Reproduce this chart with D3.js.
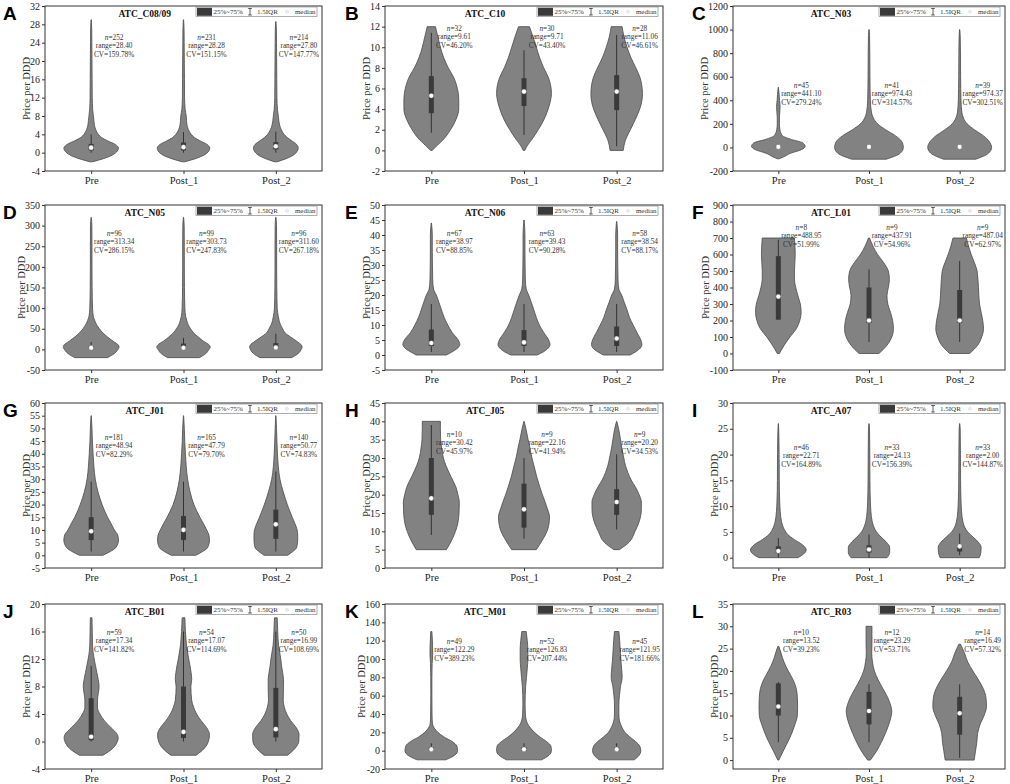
<!DOCTYPE html>
<html><head><meta charset="utf-8">
<script src="https://cdn.jsdelivr.net/npm/d3@7"></script>
<style>body{margin:0;background:#fff} svg{display:block} svg text{font-family:'Liberation Serif','Times New Roman',serif}</style>
</head><body><svg id="chart" width="1010" height="784"></svg>
<script>
const categories = ["Pre","Post_1","Post_2"];
const panelLetters = ["A","B","C","D","E","F","G","H","I","J","K","L"];
const panelTitles = ["ATC_C08/09","ATC_C10","ATC_N03","ATC_N05","ATC_N06","ATC_L01","ATC_J01","ATC_J05","ATC_A07","ATC_B01","ATC_M01","ATC_R03"];
const yDomains = [[-4,32],[-2,14],[-200,1200],[-50,350],[-5,50],[-100,900],[-5,60],[0,45],[-2,30],[-4,20],[-20,160],[-2,35]];
const yTicks = [
  [-4,0,4,8,12,16,20,24,28,32],
  [-2,0,2,4,6,8,10,12,14],
  [-200,0,200,400,600,800,1000,1200],
  [-50,0,50,100,150,200,250,300,350],
  [-5,0,5,10,15,20,25,30,35,40,45,50],
  [-100,0,100,200,300,400,500,600,700,800,900],
  [-5,0,5,10,15,20,25,30,35,40,45,50,55,60],
  [0,5,10,15,20,25,30,35,40,45],
  [0,5,10,15,20,25,30],
  [-4,0,4,8,12,16,20],
  [-20,0,20,40,60,80,100,120,140,160],
  [0,5,10,15,20,25,30,35]
];
const sampleN = [[252,231,214],[32,30,28],[45,41,39],[96,99,96],[67,63,58],[8,9,9],[181,165,140],[10,9,9],[46,33,33],[59,54,50],[49,52,45],[10,12,14]];
const rangeVals = [["28.40","28.28","27.80"],["9.61","9.71","11.06"],["441.10","974.43","974.37"],["313.34","303.73","311.60"],["38.97","39.43","38.54"],["488.95","437.91","487.04"],["48.94","47.79","50.77"],["30.42","22.16","20.20"],["22.71","24.13","2.00"],["17.34","17.07","16.99"],["122.29","126.83","121.95"],["13.52","23.29","16.49"]];
const cvVals = [["159.78%","151.15%","147.77%"],["46.20%","43.40%","46.61%"],["279.24%","314.57%","302.51%"],["286.15%","247.83%","267.18%"],["88.85%","90.28%","88.17%"],["51.99%","54.96%","62.97%"],["82.29%","79.70%","74.83%"],["45.97%","41.94%","34.53%"],["164.89%","156.39%","144.87%"],["141.82%","114.69%","108.69%"],["389.23%","207.44%","181.66%"],["39.23%","53.71%","57.32%"]];
const medians = [[1.1,1.2,1.4],[5.3,5.7,5.7],[5,5,5],[4,4,4.5],[4,4.2,5.5],[345,200,200],[9.5,10,12.2],[19,16,18],[1.3,1.6,2.2],[0.7,1.4,1.8],[1.5,1.5,1.5],[12,11,10.5]];
const q1s = [[0.5,0.5,0.7],[3.6,4.3,3.9],[0,0,0],[2,2,2],[3,3,3],[205,185,185],[6,6,6.5],[14.5,11,14.5],[0.9,1.0,1.2],[0.2,0.5,0.6],[0,0,0],[10,8,5.7]];
const q3s = [[1.9,2.2,2.3],[7.2,7.0,7.3],[15,15,15],[8,14,15],[8.5,8.3,9.5],[590,400,385],[15,15.5,18],[30,23,21.5],[2.2,2.4,2.5],[6.3,8,7.8],[4,4,4],[17.2,15.3,14.2]];
const whiskLo = [[0,0,0],[1.7,1.5,0.4],[-5,-5,-5],[0,0,0],[1,1,1],[205,70,70],[1.5,1.5,1.5],[9,8,10.5],[0,0,0.5],[0,0,0],[0,0,0],[4,4,0.5]];
const whiskHi = [[4,4.5,4.6],[11.4,9.7,11.2],[30,30,30],[18,28,38],[17,17,17],[690,510,560],[29,29,33],[39,30,31],[3.8,4.5,4.7],[11,16,16],[8,8,8],[17.5,17,17]];

// violin outlines: [value, relative half-width]
const violinA = [
 [[-2,0.04],[-1.3,0.45],[-0.5,0.78],[0.3,0.95],[1,1.0],[1.8,0.88],[2.6,0.6],[3.3,0.38],[4,0.26],[5,0.17],[6,0.12],[7,0.1],[8,0.08],[9.5,0.055],[12,0.04],[16,0.035],[20,0.03],[24,0.025],[27,0.02],[29,0.005]],
 [[-2,0.04],[-1.3,0.44],[-0.5,0.76],[0.3,0.92],[1,0.96],[1.8,0.86],[2.6,0.6],[3.3,0.4],[4,0.28],[5,0.18],[6,0.13],[7,0.11],[8,0.1],[9.5,0.06],[12,0.04],[16,0.035],[20,0.03],[24,0.025],[27,0.02],[29,0.005]],
 [[-2,0.04],[-1.3,0.38],[-0.5,0.65],[0.3,0.78],[1,0.82],[1.8,0.76],[2.6,0.58],[3.3,0.42],[4,0.3],[5,0.2],[6,0.14],[7,0.11],[8,0.09],[9.5,0.06],[12,0.04],[16,0.035],[20,0.03],[24,0.025],[27,0.02],[28.6,0.005]]
];
const violinB = [
 [[0,0.03],[0.5,0.22],[1,0.42],[2,0.7],[3,0.9],[4,1.0],[5,1.0],[6,0.95],[7,0.83],[8,0.62],[9,0.45],[10,0.33],[11,0.24],[12,0.15]],
 [[0,0.03],[0.5,0.13],[1,0.27],[2,0.52],[3,0.73],[4,0.88],[5,0.98],[5.5,1.0],[6,0.99],[7,0.9],[8,0.72],[9,0.57],[10,0.45],[11,0.33],[12,0.2]],
 [[0,0.24],[1,0.32],[2,0.5],[3,0.68],[4,0.84],[5,0.93],[5.5,0.94],[6,0.93],[7,0.86],[8,0.7],[9,0.52],[10,0.38],[11,0.27],[12,0.2]]
];
const violinC = [
 [[-96,0.04],[-80,0.2],[-50,0.45],[-20,0.85],[10,1.0],[40,0.9],[70,0.45],[100,0.15],[150,0.06],[200,0.04],[250,0.04],[300,0.055],[350,0.065],[400,0.045],[450,0.03],[510,0.005]],
 [[-100,0.64],[-50,1.16],[0,1.28],[50,1.22],[100,0.98],[150,0.62],[200,0.32],[250,0.16],[300,0.09],[400,0.05],[600,0.035],[800,0.03],[950,0.02],[1000,0.005]],
 [[-100,0.6],[-50,1.07],[0,1.19],[50,1.1],[100,0.88],[150,0.55],[200,0.28],[250,0.14],[300,0.08],[400,0.05],[600,0.035],[800,0.03],[950,0.02],[1000,0.005]]
];
const violinD = [
 [[-20,0.6],[-10,0.85],[0,0.98],[5,1.02],[10,1.0],[20,0.8],[30,0.6],[40,0.43],[50,0.3],[60,0.2],[70,0.13],[80,0.08],[100,0.05],[150,0.035],[200,0.03],[250,0.03],[300,0.025],[320,0.005]],
 [[-20,0.58],[-10,0.82],[0,0.93],[5,0.98],[10,0.95],[20,0.73],[30,0.54],[40,0.37],[50,0.26],[60,0.17],[70,0.12],[80,0.08],[100,0.05],[150,0.035],[200,0.03],[250,0.03],[300,0.025],[320,0.005]],
 [[-20,0.58],[-10,0.82],[0,0.93],[5,0.96],[10,0.94],[20,0.76],[30,0.54],[40,0.34],[50,0.25],[60,0.17],[70,0.12],[80,0.09],[100,0.05],[150,0.035],[200,0.03],[250,0.03],[300,0.025],[320,0.005]]
];
const violinE = [
 [[0,0.55],[1,0.75],[2,0.92],[3.5,1.04],[5,0.98],[7.5,0.76],[10,0.6],[12.5,0.47],[15,0.37],[17.5,0.28],[20,0.18],[22,0.08],[25,0.05],[30,0.04],[35,0.035],[40,0.035],[44,0.005]],
 [[0,0.48],[1,0.7],[2,0.85],[3.5,0.95],[5,0.9],[7.5,0.72],[10,0.56],[12.5,0.45],[15,0.36],[17.5,0.27],[20,0.17],[22,0.08],[25,0.05],[30,0.04],[35,0.035],[40,0.035],[45,0.005]],
 [[0,0.49],[1,0.68],[2,0.83],[3.5,0.92],[5,0.88],[7.5,0.74],[10,0.6],[12.5,0.47],[15,0.38],[17.5,0.28],[20,0.18],[22,0.08],[25,0.05],[30,0.04],[35,0.035],[40,0.035],[44.5,0.005]]
];
const violinF = [
 [[0,0.04],[50,0.22],[100,0.43],[150,0.67],[200,0.8],[250,0.85],[300,0.82],[350,0.73],[400,0.65],[450,0.6],[500,0.6],[600,0.63],[700,0.6]],
 [[0,0.37],[50,0.67],[100,0.85],[150,0.91],[200,0.88],[250,0.8],[300,0.7],[350,0.67],[400,0.72],[450,0.76],[500,0.72],[550,0.55],[600,0.32],[650,0.15],[700,0.02]],
 [[0,0.37],[50,0.67],[100,0.82],[150,0.89],[200,0.86],[300,0.74],[400,0.7],[500,0.65],[550,0.55],[600,0.43],[650,0.33],[700,0.25]]
];
const violinG = [
 [[0,0.43],[1.5,0.7],[3,0.9],[6,1.0],[8,0.97],[10,0.85],[12.5,0.73],[15,0.6],[20,0.4],[25,0.25],[30,0.15],[35,0.1],[40,0.07],[45,0.045],[50,0.03],[55,0.005]],
 [[0,0.45],[1.5,0.7],[3,0.88],[6,0.95],[8,0.93],[10,0.85],[12.5,0.73],[15,0.6],[20,0.38],[25,0.24],[30,0.15],[35,0.1],[40,0.07],[45,0.045],[50,0.03],[55,0.005]],
 [[0,0.43],[1.5,0.62],[3,0.76],[6,0.8],[8,0.8],[10,0.78],[12.5,0.7],[15,0.6],[20,0.42],[25,0.27],[30,0.15],[35,0.09],[40,0.06],[45,0.04],[50,0.025],[55,0.005]]
];
const violinH = [
 [[5,0.55],[8,0.77],[10,0.88],[12,0.96],[15,1.01],[18,1.02],[20,0.97],[22,0.9],[25,0.71],[28,0.53],[30,0.44],[33,0.37],[35,0.34],[38,0.33],[40,0.33]],
 [[5,0.45],[8,0.7],[10,0.84],[12,0.91],[14,0.93],[16,0.86],[18,0.77],[20,0.67],[22,0.58],[25,0.46],[28,0.36],[30,0.29],[33,0.21],[35,0.15],[38,0.07],[40,0.005]],
 [[5,0.1],[7,0.45],[10,0.67],[12,0.79],[14,0.87],[16,0.9],[18,0.9],[20,0.82],[22,0.69],[24,0.53],[26,0.41],[28,0.32],[30,0.26],[33,0.18],[35,0.14],[38,0.07],[40,0.005]]
];
const violinI = [
 [[0,0.73],[0.75,0.95],[1.5,1.04],[2.5,0.9],[3.5,0.6],[4.5,0.35],[5.5,0.22],[7,0.12],[9,0.07],[11,0.05],[15,0.035],[20,0.03],[24,0.02],[26,0.005]],
 [[0,0.67],[1,0.77],[2,0.77],[3,0.65],[4,0.45],[5,0.28],[6,0.18],[7,0.12],[9,0.07],[11,0.05],[15,0.035],[20,0.03],[25,0.02],[26,0.005]],
 [[0,0.73],[1,0.79],[2,0.8],[3,0.7],[4,0.5],[5,0.3],[6,0.18],[7,0.12],[9,0.07],[11,0.05],[15,0.035],[20,0.03],[25,0.02],[26,0.005]]
];
const violinJ = [
 [[-2,0.43],[-1,0.79],[0,0.96],[0.5,0.99],[1,0.96],[2,0.73],[3,0.49],[4,0.32],[5,0.23],[6,0.23],[7,0.26],[8,0.29],[9,0.26],[10,0.21],[11,0.16],[12,0.11],[13,0.07],[14,0.05],[16,0.04],[18,0.03]],
 [[-2,0.46],[-1,0.76],[0,0.91],[1,0.95],[2,0.85],[3,0.65],[4,0.48],[5,0.37],[6,0.3],[8,0.27],[9,0.3],[10,0.28],[11,0.24],[12,0.19],[13,0.15],[14,0.11],[15,0.09],[16,0.07],[17,0.06],[18,0.05]],
 [[-2,0.43],[-1,0.7],[0,0.84],[1,0.85],[2,0.75],[3,0.55],[4,0.4],[5,0.31],[6,0.27],[8,0.28],[9,0.28],[10,0.25],[11,0.21],[12,0.18],[13,0.14],[14,0.1],[16,0.07],[18,0.05]]
];
const violinK = [
 [[-10,0.52],[-5,0.85],[0,0.96],[5,0.93],[10,0.76],[15,0.46],[20,0.24],[25,0.1],[30,0.04],[40,0.025],[60,0.02],[80,0.02],[95,0.03],[105,0.05],[115,0.045],[125,0.03],[130,0.02]],
 [[-10,0.64],[-5,0.91],[0,1.0],[5,0.98],[10,0.82],[15,0.58],[20,0.38],[25,0.23],[30,0.12],[40,0.05],[50,0.04],[60,0.045],[70,0.06],[80,0.09],[90,0.12],[100,0.14],[110,0.14],[120,0.12],[130,0.08]],
 [[-10,0.64],[-5,0.82],[0,0.88],[5,0.84],[10,0.69],[15,0.48],[20,0.3],[25,0.2],[30,0.13],[35,0.09],[40,0.08],[50,0.08],[60,0.1],[70,0.14],[80,0.2],[90,0.18],[100,0.15],[110,0.13],[120,0.11],[130,0.08]]
];
const violinL = [
 [[0,0.02],[2,0.18],[5,0.43],[8,0.62],[10,0.71],[12,0.72],[14,0.71],[16,0.67],[18,0.55],[20,0.37],[22,0.21],[24,0.1],[25.5,0.02]],
 [[0,0.05],[2,0.28],[4,0.46],[6,0.61],[8,0.74],[10,0.83],[11,0.85],[12,0.82],[14,0.7],[16,0.52],[18,0.34],[20,0.2],[22,0.13],[24,0.1],[26,0.11],[28,0.11],[30,0.11]],
 [[0,0.54],[2,0.59],[4,0.64],[6,0.67],[8,0.76],[10,0.91],[12,1.0],[14,0.98],[16,0.88],[18,0.7],[20,0.49],[22,0.3],[24,0.18],[26,0.03]]
];
const violins = [violinA,violinB,violinC,violinD,violinE,violinF,violinG,violinH,violinI,violinJ,violinK,violinL];

// ---- layout ----
const colLeft = [45,385,733], colRight = [322,663,1005], letterX = [3,345,692];
const rowTop = [6,205,403,604], plotH = 165;
const annotTop = [31,22,79,28,28,22,34,31,44,28,37,28];
const SERIF = "'Liberation Serif','Times New Roman',serif";
const SANS = "'Liberation Sans',Arial,sans-serif";

const svg = d3.select("#chart");
svg.append("rect").attr("width",1010).attr("height",784).attr("fill","#fff");

panelTitles.forEach((title,i)=>{
  const col=i%3,row=Math.floor(i/3);
  const L=colLeft[col],R=colRight[col],T=rowTop[row],B=T+plotH;
  const y=d3.scaleLinear().domain(yDomains[i]).range([B,T]);
  const x=d3.scalePoint().domain(categories).range([L,R]).padding(0.5);
  const w=d3.scaleLinear().domain([0,1]).range([0,x.step()*0.296]);
  const g=svg.append("g");

  categories.forEach((c,j)=>{
    const cx=x(c);
    const area=d3.area().curve(d3.curveMonotoneY)
      .y(d=>y(d[0])).x0(d=>cx-w(d[1])).x1(d=>cx+w(d[1]));
    g.append("path").datum(violins[i][j]).attr("d",area)
      .attr("fill","#828282").attr("stroke","#4a4a4a").attr("stroke-width",0.8);
    g.append("line").attr("x1",cx).attr("x2",cx)
      .attr("y1",y(whiskLo[i][j])).attr("y2",y(whiskHi[i][j]))
      .attr("stroke","#333").attr("stroke-width",1);
    g.append("rect").attr("x",cx-2.5).attr("width",5)
      .attr("y",y(q3s[i][j])).attr("height",Math.max(0.5,y(q1s[i][j])-y(q3s[i][j])))
      .attr("fill","#3a3a3a");
    g.append("circle").attr("cx",cx).attr("cy",y(medians[i][j])).attr("r",2.3)
      .attr("fill","#fff").attr("stroke","#999").attr("stroke-width",0.3);
    const ax=cx+23, ay=T+annotTop[i]+2.5;
    const ann=g.append("g").attr("text-anchor","middle");
    const t1=ann.append("text").attr("x",ax).attr("y",ay);
    t1.append("tspan").style("font-style","italic").text("n");
    t1.append("tspan").text("="+sampleN[i][j]);
    ann.append("text").attr("x",ax).attr("y",ay+8.6).text("range="+rangeVals[i][j]);
    ann.append("text").attr("x",ax).attr("y",ay+17.2).text("CV="+cvVals[i][j]);
    ann.selectAll("text").style("font-family",SERIF).style("font-size","7.3px").style("fill","#333");
  });

  g.append("rect").attr("x",L).attr("y",T).attr("width",R-L).attr("height",plotH)
    .attr("fill","none").attr("stroke","#333").attr("stroke-width",1);

  const ya=g.append("g").attr("transform",`translate(${L},0)`)
    .call(d3.axisLeft(y).tickValues(yTicks[i]).tickFormat(d=>String(d)).tickSize(3).tickPadding(2));
  ya.select(".domain").remove();
  ya.selectAll("line").attr("stroke","#333");
  ya.selectAll("text").style("font-family",SERIF).style("font-size","10px").style("fill","#222");
  let maxW=0; ya.selectAll("text").each(function(){maxW=Math.max(maxW,this.getComputedTextLength());});

  const xa=g.append("g").attr("transform",`translate(0,${B})`)
    .call(d3.axisBottom(x).tickSize(3).tickPadding(3));
  xa.select(".domain").remove();
  xa.selectAll("line").attr("stroke","#333");
  xa.selectAll("text").style("font-family",SERIF).style("font-size","10.5px").style("fill","#222");

  const lx=L-9-maxW, ly=(T+B)/2;
  g.append("text").attr("transform",`translate(${lx},${ly}) rotate(-90)`)
    .attr("text-anchor","middle").attr("dy","0.35em")
    .style("font-family",SERIF).style("font-size","10.5px").style("fill","#333")
    .text("Price per DDD");

  g.append("text").attr("x",L+0.36*(R-L)).attr("y",T+10.5).attr("text-anchor","middle")
    .style("font-family",SERIF).style("font-weight","bold").style("font-size","9.5px").style("fill","#111")
    .text(title);

  const lg=g.append("g").attr("transform",`translate(${R-126},${T+1})`);
  lg.append("rect").attr("width",121).attr("height",9.5).attr("fill","#fff").attr("stroke","#777").attr("stroke-width",0.6);
  lg.append("rect").attr("x",1).attr("y",0.8).attr("width",15).attr("height",8).attr("fill","#3a3a3a");
  lg.append("text").attr("x",17.5).attr("y",7.3).text("25%~75%");
  lg.append("line").attr("x1",54).attr("x2",54).attr("y1",1.5).attr("y2",8).attr("stroke","#333").attr("stroke-width",0.8);
  lg.append("line").attr("x1",52.2).attr("x2",55.8).attr("y1",1.5).attr("y2",1.5).attr("stroke","#333").attr("stroke-width",0.8);
  lg.append("line").attr("x1",52.2).attr("x2",55.8).attr("y1",8).attr("y2",8).attr("stroke","#333").attr("stroke-width",0.8);
  lg.append("text").attr("x",61).attr("y",7.3).text("1.5IQR");
  lg.append("circle").attr("cx",91).attr("cy",4.75).attr("r",1.6).attr("fill","#eee").attr("stroke","#ccc").attr("stroke-width",0.4);
  lg.append("text").attr("x",119.5).attr("y",7.3).attr("text-anchor","end").text("median");
  lg.selectAll("text").style("font-family",SERIF).style("font-size","7px").style("fill","#333");

  g.append("text").attr("x",letterX[col]).attr("y",T+13.5)
    .style("font-family",SANS).style("font-weight","bold").style("font-size","19px").style("fill","#000")
    .text(panelLetters[i]);
});
</script>
</body></html>
